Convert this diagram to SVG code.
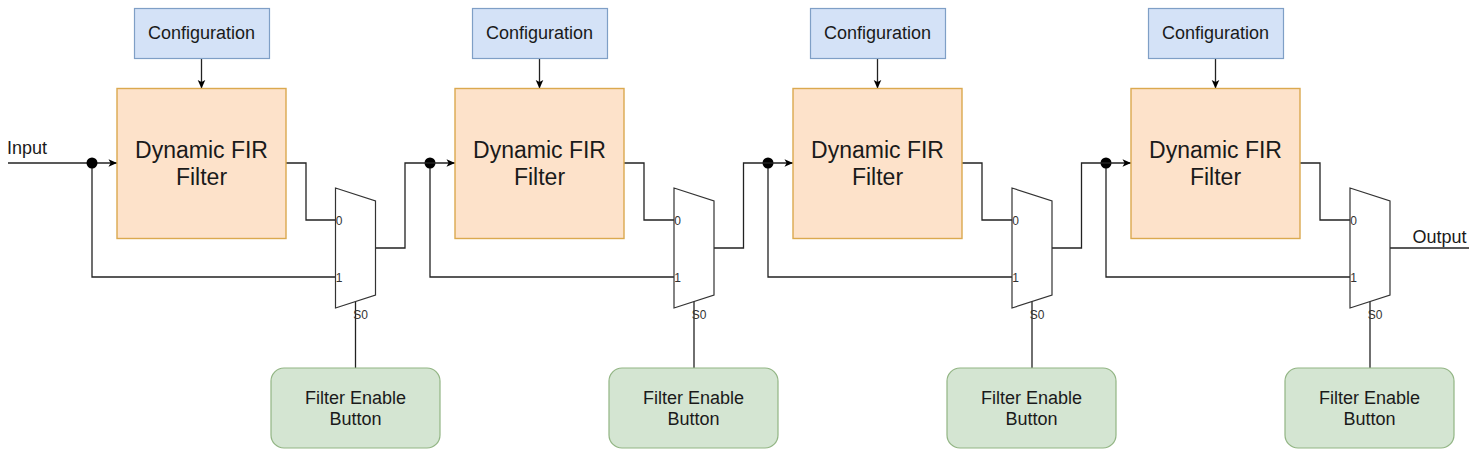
<svg xmlns="http://www.w3.org/2000/svg" width="1475" height="456" viewBox="0 0 1475 456">
<style>
text{font-family:"Liberation Sans",Arial,sans-serif;fill:#1a1a1a;text-anchor:middle}
.cfg rect{fill:#d4e2f7;stroke:#7f9fc6;stroke-width:1.2}
.cfg text{font-size:18px}
.fir rect{fill:#fde2ca;stroke:#dba94f;stroke-width:1.4}
.fir text{font-size:23px}
.mux path{fill:#fff;stroke:#333;stroke-width:1.2}
.mux text{font-size:12px;fill:#333}
.btn rect{fill:#d4e5d2;stroke:#92b584;stroke-width:1.2}
.btn text{font-size:18px}
.lbl{font-size:18px;text-anchor:start}
#connectors path{fill:none;stroke:#222;stroke-width:1.3}
#connectors circle{fill:#000}
</style>
<defs>
<marker id="arrow" markerUnits="userSpaceOnUse" markerWidth="10" markerHeight="10" refX="9" refY="5" orient="auto"><path d="M0.5 1.2 L9 5 L0.5 8.8 L2.6 5 Z" fill="#000"/></marker>
</defs>
<rect width="1475" height="456" fill="#fff"/>
<g id="connectors">
<path d="M8 163H117" marker-end="url(#arrow)"/>
<path d="M92 163V277H335.500"/>
<path d="M430 163V277H674"/>
<path d="M768 163V277H1012"/>
<path d="M1106 163V277H1350"/>
<circle cx="92" cy="163" r="5.500"/><circle cx="430" cy="163" r="5.500"/><circle cx="768" cy="163" r="5.500"/><circle cx="1106" cy="163" r="5.500"/>
<path d="M201.500 58.500V88.500" marker-end="url(#arrow)"/>
<path d="M539.500 58.500V88.500" marker-end="url(#arrow)"/>
<path d="M877.500 58.500V88.500" marker-end="url(#arrow)"/>
<path d="M1215.500 58.500V88.500" marker-end="url(#arrow)"/>
<path d="M286 163H306V220H335.500"/>
<path d="M624 163H644V220H674"/>
<path d="M962 163H982V220H1012"/>
<path d="M1300 163H1320V220H1350"/>
<path d="M375.500 248H405V163H455" marker-end="url(#arrow)"/>
<path d="M714 248H743.500V163H793" marker-end="url(#arrow)"/>
<path d="M1052 248H1081.500V163H1131" marker-end="url(#arrow)"/>
<path d="M1390 248H1469"/>
<path d="M355.500 301V368"/>
<path d="M694 301V368"/>
<path d="M1032 301V368"/>
<path d="M1370 301V368"/>
</g>
<text id="input-label" class="lbl" x="7" y="154">Input</text>
<text id="output-label" class="lbl" x="1412.500" y="243">Output</text>

<g id="config1" class="cfg"><rect x="134.500" y="8.500" width="135" height="50"/><text x="201.500" y="38.500">Configuration</text></g>
<g id="config2" class="cfg"><rect x="472.500" y="8.500" width="135" height="50"/><text x="539.500" y="38.500">Configuration</text></g>
<g id="config3" class="cfg"><rect x="810.500" y="8.500" width="135" height="50"/><text x="877.500" y="38.500">Configuration</text></g>
<g id="config4" class="cfg"><rect x="1148.500" y="8.500" width="135" height="50"/><text x="1215.500" y="38.500">Configuration</text></g>

<g id="fir1" class="fir"><rect x="117" y="88.500" width="169" height="150"/><text x="201.500" y="158">Dynamic FIR</text><text x="201.500" y="185">Filter</text></g>
<g id="fir2" class="fir"><rect x="455" y="88.500" width="169" height="150"/><text x="539.500" y="158">Dynamic FIR</text><text x="539.500" y="185">Filter</text></g>
<g id="fir3" class="fir"><rect x="793" y="88.500" width="169" height="150"/><text x="877.500" y="158">Dynamic FIR</text><text x="877.500" y="185">Filter</text></g>
<g id="fir4" class="fir"><rect x="1131" y="88.500" width="169" height="150"/><text x="1215.500" y="158">Dynamic FIR</text><text x="1215.500" y="185">Filter</text></g>

<g id="mux1" class="mux"><path d="M335.500 188L375.500 201V295L335.500 308Z"/><text x="339" y="225">0</text><text x="339" y="282">1</text><text x="360.500" y="319">S0</text></g>
<g id="mux2" class="mux"><path d="M674 188L714 201V295L674 308Z"/><text x="677.500" y="225">0</text><text x="677.500" y="282">1</text><text x="699" y="319">S0</text></g>
<g id="mux3" class="mux"><path d="M1012 188L1052 201V295L1012 308Z"/><text x="1015.500" y="225">0</text><text x="1015.500" y="282">1</text><text x="1037" y="319">S0</text></g>
<g id="mux4" class="mux"><path d="M1350 188L1390 201V295L1350 308Z"/><text x="1353.500" y="225">0</text><text x="1353.500" y="282">1</text><text x="1375" y="319">S0</text></g>

<g id="button1" class="btn"><rect x="271" y="368" width="169" height="80" rx="13"/><text x="355.500" y="403.500">Filter Enable</text><text x="355.500" y="424.500">Button</text></g>
<g id="button2" class="btn"><rect x="609" y="368" width="169" height="80" rx="13"/><text x="693.500" y="403.500">Filter Enable</text><text x="693.500" y="424.500">Button</text></g>
<g id="button3" class="btn"><rect x="947" y="368" width="169" height="80" rx="13"/><text x="1031.500" y="403.500">Filter Enable</text><text x="1031.500" y="424.500">Button</text></g>
<g id="button4" class="btn"><rect x="1285" y="368" width="169" height="80" rx="13"/><text x="1369.500" y="403.500">Filter Enable</text><text x="1369.500" y="424.500">Button</text></g>
</svg>
